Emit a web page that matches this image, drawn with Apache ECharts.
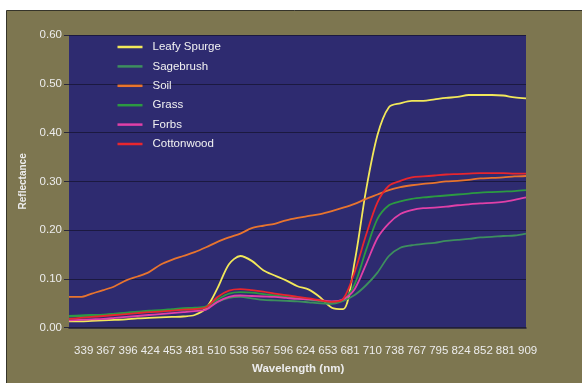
<!DOCTYPE html>
<html><head><meta charset="utf-8">
<script src="https://cdn.jsdelivr.net/npm/echarts@6/dist/echarts.min.js"></script>
<style>html,body{margin:0;padding:0;background:#fff;}#c{width:582px;height:383px;}</style>
</head><body><div id="c"></div>
<script>
// wavelength sample points (nm) along the curves
const wavelengths = [339,353,367,382,396,410,424,439,453,467,481,496,510,524,538,553,567,581,596,610,624,638,653,667,681,695,710,724,738,752,767,781,795,809,824,838,852,866,881,895,909];
// tick labels shown under the chart
const tickLabels = ['339','367','396','424','453','481','510','538','567','596','624','653','681','710','738','767','795','824','852','881','909'];
const yTicks = [0, 0.1, 0.2, 0.3, 0.4, 0.5, 0.6];

const leafySpurge = [0.013,0.013,0.014,0.015,0.016,0.017,0.019,0.020,0.021,0.022,0.023,0.026,0.040,0.081,0.130,0.147,0.137,0.118,0.107,0.097,0.085,0.078,0.062,0.041,0.038,0.135,0.282,0.395,0.452,0.460,0.465,0.465,0.468,0.471,0.473,0.477,0.477,0.477,0.476,0.472,0.470];
const sagebrush = [0.023,0.024,0.025,0.026,0.028,0.030,0.032,0.033,0.034,0.036,0.037,0.039,0.041,0.053,0.061,0.063,0.060,0.057,0.056,0.055,0.054,0.052,0.050,0.049,0.055,0.067,0.087,0.113,0.147,0.164,0.169,0.172,0.174,0.178,0.180,0.182,0.185,0.186,0.188,0.189,0.193];
const soil = [0.063,0.063,0.070,0.077,0.085,0.097,0.105,0.114,0.129,0.139,0.147,0.155,0.165,0.176,0.185,0.193,0.204,0.209,0.213,0.220,0.225,0.229,0.233,0.239,0.246,0.254,0.264,0.273,0.282,0.288,0.292,0.295,0.297,0.300,0.301,0.303,0.306,0.307,0.308,0.310,0.311];
const grass = [0.024,0.025,0.026,0.027,0.029,0.031,0.033,0.035,0.036,0.038,0.040,0.041,0.044,0.058,0.070,0.073,0.072,0.069,0.066,0.063,0.060,0.057,0.054,0.052,0.057,0.089,0.159,0.223,0.251,0.259,0.264,0.267,0.269,0.271,0.273,0.275,0.277,0.278,0.279,0.280,0.282];
const forbs = [0.015,0.016,0.017,0.018,0.020,0.022,0.024,0.026,0.028,0.030,0.032,0.034,0.037,0.053,0.063,0.066,0.065,0.064,0.063,0.061,0.059,0.058,0.056,0.054,0.058,0.079,0.130,0.184,0.214,0.233,0.241,0.245,0.246,0.248,0.251,0.253,0.255,0.256,0.258,0.262,0.267];
const cottonwood = [0.018,0.020,0.022,0.024,0.026,0.028,0.030,0.032,0.033,0.035,0.037,0.038,0.042,0.063,0.076,0.079,0.077,0.074,0.070,0.067,0.063,0.060,0.056,0.053,0.059,0.114,0.190,0.257,0.291,0.301,0.308,0.310,0.312,0.314,0.315,0.316,0.317,0.317,0.317,0.316,0.316];

const seriesNames = ['Leafy Spurge','Sagebrush','Soil','Grass','Forbs','Cottonwood'];
const seriesData = [leafySpurge, sagebrush, soil, grass, forbs, cottonwood];
const seriesColors = ['#f2e85a','#3d8f5e','#e8742e','#2c9a42','#e040a8','#e8262e'];

const FONT = 'Liberation Sans, Arial, sans-serif';
const chart = echarts.init(document.getElementById('c'), null, {renderer:'canvas'});
chart.setOption({
  backgroundColor: '#ffffff',
  animation: false,
  graphic: [{
    type: 'rect', z: -10, silent: true,
    shape: {x: 6.5, y: 10.5, width: 600, height: 400},
    style: {fill: '#7d7650', stroke: '#35342a', lineWidth: 1}
  }],
  title: {
    text: 'Wavelength (nm)', left: 247, top: 358,
    textStyle: {color: '#ececec', fontSize: 11.5, fontWeight: 'bold', fontFamily: FONT}
  },
  legend: {
    orient: 'vertical', left: 112.5, top: 35, padding: 5,
    icon: 'rect', itemWidth: 25, itemHeight: 2.5, itemGap: 5.4,
    data: seriesNames,
    textStyle: {color: '#f2f2f2', fontSize: 11.5, fontFamily: FONT, lineHeight: 14, padding: [0,0,0,5]}
  },
  grid: [
    {left: 69, right: 56, top: 35, bottom: 55.3, show: true, backgroundColor: '#2e2b70', borderWidth: 0},
    {left: 72.6, right: 43.3, top: 35, bottom: 55.3}
  ],
  xAxis: [
    {gridIndex: 0, type: 'category', data: wavelengths, boundaryGap: false,
     axisLabel: {show: false}, axisTick: {show: false},
     axisLine: {show: true, lineStyle: {color: '#24223a', width: 1.5}},
     splitLine: {show: false}},
    {gridIndex: 1, type: 'category', data: tickLabels, boundaryGap: true,
     axisLine: {show: false}, axisTick: {show: false},
     axisLabel: {color: '#ececec', fontSize: 11.5, fontFamily: FONT, margin: 17, interval: 0}}
  ],
  yAxis: [
    {gridIndex: 0, type: 'value', min: yTicks[0], max: yTicks[yTicks.length-1], interval: 0.1,
     name: 'Reflectance', nameLocation: 'middle', nameGap: 38, nameRotate: 90,
     nameTextStyle: {color: '#ececec', fontSize: 10, fontWeight: 'bold', fontFamily: FONT},
     axisLabel: {color: '#ececec', fontSize: 11.5, fontFamily: FONT, margin: 7, formatter: v => v.toFixed(2)},
     axisLine: {show: false},
     axisTick: {show: true, length: 5, lineStyle: {color: '#2a2838'}},
     splitLine: {show: true, lineStyle: {color: '#1b1940', width: 1}}},
    {gridIndex: 1, type: 'value', min: 0, max: 0.6, show: false}
  ],
  series: seriesNames.map((n, i) => ({
    name: n, type: 'line', xAxisIndex: 0, yAxisIndex: 0,
    data: seriesData[i], showSymbol: false, smooth: 0.3,
    color: seriesColors[i],
    lineStyle: {color: seriesColors[i], width: 1.8}
  }))
});
</script></body></html>
